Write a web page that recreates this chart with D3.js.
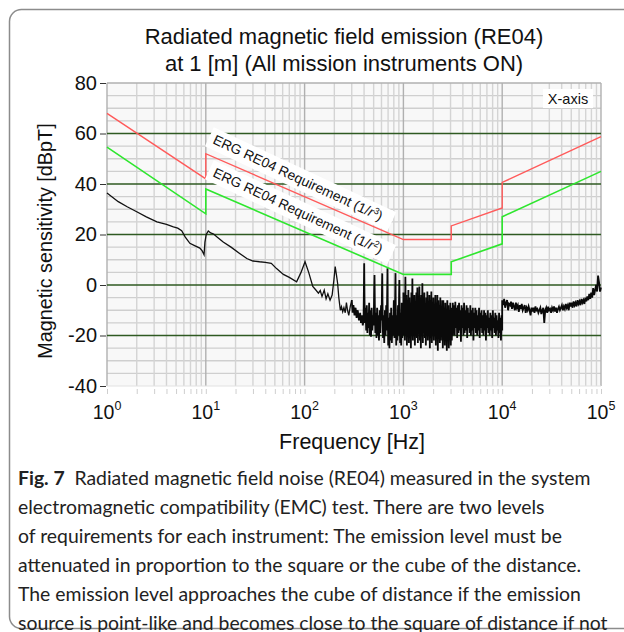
<!DOCTYPE html>
<html lang="en">
<head>
<meta charset="utf-8">
<title>Radiated magnetic field emission (RE04)</title>
<script src="https://d3js.org/d3.v7.min.js"></script>
<style>
  body { margin: 0; background: #fff; }
  svg { display: block; }
  .title, .axis-label, .tick text { font-family: "Liberation Sans", Arial, sans-serif; fill: #111; }
  .caption { font-family: Lato, "Open Sans", sans-serif; font-size: 19.4px; fill: #222; }
  .req-label { font-family: "Liberation Sans", Arial, sans-serif; font-size: 13.8px; fill: #111; }
</style>
</head>
<body>
<svg width="624" height="632"></svg>
<script>

// requirement limits (break points, dBpT)
var reqFreq  = [1, 10, 10, 1000, 3050, 3050, 10000, 10000, 100000];
var reqCube  = [68, 42, 52, 18, 18, 23.4, 30.5, 40.6, 58.8];
var reqSquare = [54.6, 28.2, 38, 4.2, 4.2, 9.2, 16.3, 27, 45];

// measured emission, 1 Hz - 300 Hz  [freq, dBpT]
var measLow = [
  [1, 36.4], [1.3, 33], [1.6, 31], [2, 29], [2.5, 27], [3.2, 25], [4, 24], [4.7, 23],
  [5.2, 22.5], [5.7, 21.5], [6.2, 19], [6.9, 16.5], [7.8, 15.5], [8.7, 14.6], [9.2, 13.5],
  [9.6, 12], [9.8, 17], [10.1, 20], [10.6, 21.4], [11.2, 20.6], [12, 20.2], [13, 19],
  [15, 17], [18, 15], [22, 12.5], [26, 10.5], [30, 9.5], [35, 9.2], [40, 9.0], [46, 8.6],
  [52, 6.5], [61, 4.2], [70, 3], [83, 1.3], [92, 5], [101, 9.2], [110, 5], [121, -0.6],
  [130, -2], [138, -3.2], [144, -2.2], [150, -4.5], [158, -2], [165, -5.5], [172, -3.5],
  [181, -6], [190, -4], [198, 2], [204, 7.3], [210, 4], [216, 0.6], [222, -5], [230, -10],
  [236, -8.6], [243, -10.6], [250, -9], [258, -11], [265, -7], [272, -10], [280, -12],
  [290, -8.5], [300, -6]
];

// measured emission, 300 Hz - 1 kHz (harmonic spikes)
var measSpikes = [
  [300, -6], [306, -11], [312, -8], [320, -12], [328, -9], [336, -13], [345, -10], [355, -14], [365, -11],
  [372, -15], [380, -12], [388, -16], [395, -14], [398, -3], [401, 8.6], [404, -6], [408, -15],
  [414, -9], [420, -18], [426, -8], [432, -19], [438, -11], [444, -17], [450, -7], [457, -20],
  [463, -10], [470, -20.5], [477, -9], [484, -18], [492, -12], [500, -16], [506, -2], [510, 4],
  [514, -8], [520, -19], [527, -11], [534, -21], [542, -9], [550, -20], [558, -12], [566, -22],
  [575, -10], [584, -19], [594, -8], [602, -14], [608, 0], [611, 4.6], [614, -6], [622, -21],
  [630, -12], [640, -23], [650, -10], [660, -20], [670, -8], [678, -18], [686, -2], [690, 6.6],
  [694, -10], [702, -24], [712, -13], [722, -25], [732, -11], [742, -22], [752, -9], [764, -23],
  [776, -12], [788, -20], [800, -6], [812, -21], [822, -10], [828, -1], [832, 4.7], [836, -8],
  [846, -24], [858, -12], [870, -22], [882, -8], [894, -20], [904, -5], [910, 2], [916, -9],
  [926, -23], [938, -11], [950, -24], [962, -7], [974, -21], [986, -10], [1000, -20]
];

// measured emission, 1 kHz - 3.16 kHz sweep (dense)
var measMid = [
  -3, -19, -6, -22, 3.3, -20, -4, -24, -8, -18, -2, -23, -5, -21, -7, -25, -3, -19, 2.6, -22,
  -6, -20, -4, -24, -9, -18, -3, -21, -1, -23, -7, -19, -0.6, -22, -5, -25, -4, -20, 0.7, -23,
  -6, -18, -3, -21, -8, -24, -5, -19, -2.6, -22, -7, -20, -4, -25, -6, -21, -2.6, -23, -8, -19,
  -5, -22, -9, -20, -4, -24, -7, -21, -4, -26, -6, -19, -8, -23, -5, -22, -10, -20, -6, -25,
  -6, -21, -9, -24, -7, -20, -11, -26, -6, -22, -8, -25, -10, -21, -7, -24, -9, -22, -12, -20
];

// measured emission, 3.16 kHz - 10 kHz sweep
var measHigh = [
  -7, -18, -8, -20, -6.6, -17, -9, -21, -8, -19, -7, -18, -10, -22.5, -8, -17, -9, -20, -7, -19,
  -10, -18, -8, -21, -9, -17, -11, -19, -8, -20, -10, -18, -9, -22, -11, -17, -9, -19, -10, -20,
  -12, -18, -9, -21, -11, -17, -10, -19, -12, -20, -10, -18, -11, -22, -12, -17, -10, -19, -13, -20,
  -11, -18, -12, -21, -10, -17, -13, -19, -11, -20, -12, -18, -14, -21, -11, -19, -13, -22, -12, -18
];

// measured emission, 10 kHz - 100 kHz sweep
var measTop = [
  -6, -8, -5.5, -9, -7, -6, -10, -7.5, -8, -6.6, -9.5, -7, -8.5, -10, -7, -9, -8, -10.6, -8, -9.5,
  -7.5, -10, -9, -8, -11, -9, -10, -8.5, -10, -12, -9, -10.5, -9, -11, -8.5, -10, -9.5, -11, -10, -9,
  -11.5, -10, -9, -15, -10, -9, -11, -8.6, -10, -9.5, -11, -9, -10, -8.5, -10.5, -9, -11, -9.5, -8.6, -10,
  -9, -8, -10, -8.5, -9.5, -7.5, -9, -8, -10, -7, -8.5, -7, -9, -6.5, -8, -7, -8.5, -6, -7.5, -6.5,
  -8, -5.5, -7, -6, -7.5, -5, -6.5, -4.5, -6, -3.5, -5.5, -3, -5, -1.2, -4, -2, 0, -2.6, 3.7, 1, -2.6, -1
];

var yTicks = [80, 60, 40, 20, 0, -20, -40];
var yMajor = [60, 40, 20, 0, -20];
var decades = [0, 1, 2, 3, 4, 5];

var titleLines = ["Radiated magnetic field emission (RE04)", "at 1 [m] (All mission instruments ON)"];
var captionLines = [
  "Radiated magnetic field noise (RE04) measured in the system",
  "electromagnetic compatibility (EMC) test. There are two levels",
  "of requirements for each instrument: The emission level must be",
  "attenuated in proportion to the square or the cube of the distance.",
  "The emission level approaches the cube of distance if the emission",
  "source is point-like and becomes close to the square of distance if not"
];

var svg = d3.select("svg");

var x = d3.scaleLog().domain([1, 1e5]).range([107, 601]),
    y = d3.scaleLinear().domain([-40, 80]).range([386, 83]);

// outer card
svg.append("rect")
    .attr("x", 9.5).attr("y", 9.5).attr("width", 640).attr("height", 619).attr("rx", 12)
    .attr("fill", "none").attr("stroke", "#8c8c8c").attr("stroke-width", 1.5);

// titles
svg.selectAll(".title").data(titleLines).enter().append("text")
    .attr("class", "title")
    .attr("x", 344).attr("y", function(d, i) { return 44 + i * 27; })
    .attr("text-anchor", "middle").style("font-size", "22px")
    .text(function(d) { return d; });

var g = svg.append("g");

g.append("rect")
    .attr("x", x(1)).attr("y", y(80)).attr("width", x(1e5) - x(1)).attr("height", y(-40) - y(80))
    .attr("fill", "#f8f8f8");

// minor horizontal grid
g.selectAll(".hgrid").data(d3.range(-35, 80, 5).filter(function(v) { return v % 20 !== 0; }))
  .enter().append("line")
    .attr("x1", x(1)).attr("x2", x(1e5))
    .attr("y1", function(d) { return y(d); }).attr("y2", function(d) { return y(d); })
    .attr("stroke", "#cfcfcf").attr("stroke-width", 1.4);

// vertical grid
g.selectAll(".vgrid").data(x.ticks())
  .enter().append("line")
    .attr("x1", function(d) { return x(d); }).attr("x2", function(d) { return x(d); })
    .attr("y1", y(80)).attr("y2", y(-40))
    .attr("stroke", function(d) { return decades.indexOf(Math.round(Math.log10(d) * 1000) / 1000) >= 0 ? "#b0b0b0" : "#d4d4d4"; })
    .attr("stroke-width", 1.4);

g.append("line").attr("x1", x(1)).attr("x2", x(1e5)).attr("y1", y(80)).attr("y2", y(80))
    .attr("stroke", "#b0b0b0").attr("stroke-width", 1.6);
g.append("line").attr("x1", x(1)).attr("x2", x(1e5)).attr("y1", y(-40)).attr("y2", y(-40))
    .attr("stroke", "#e2e2e2").attr("stroke-width", 1);

// major horizontal lines
g.selectAll(".hmajor").data(yMajor)
  .enter().append("line")
    .attr("x1", x(1)).attr("x2", x(1e5))
    .attr("y1", function(d) { return y(d); }).attr("y2", function(d) { return y(d); })
    .attr("stroke", "#2f5a22").attr("stroke-width", 1.3);

// axes
var yAxis = svg.append("g").attr("transform", "translate(106,0)")
    .call(d3.axisLeft(y).tickValues(yTicks).tickSize(6).tickPadding(3)
      .tickFormat(function(d) { return String(d); }));
yAxis.select(".domain").remove();
yAxis.selectAll("line").attr("stroke", "#333");
yAxis.selectAll("text").style("font-size", "20px");

var xAxis = svg.append("g").attr("transform", "translate(0,389)")
    .call(d3.axisBottom(x).tickValues(x.ticks()).tickSize(5).tickFormat(""));
xAxis.select(".domain").remove();
xAxis.selectAll("line").attr("stroke", "#cfcfcf");

var xLab = svg.selectAll(".xlab").data(decades).enter().append("text")
    .attr("x", function(d) { return x(Math.pow(10, d)); }).attr("y", 419)
    .attr("text-anchor", "middle")
    .style("font-family", "'Liberation Sans', Arial, sans-serif").style("font-size", "19.5px").attr("fill", "#111");
xLab.append("tspan").text("10");
xLab.append("tspan").attr("dy", -9).style("font-size", "12.5px").text(function(d) { return d; });

svg.append("text").attr("class", "axis-label")
    .attr("x", 352).attr("y", 449).attr("text-anchor", "middle").style("font-size", "21.5px")
    .text("Frequency [Hz]");
svg.append("text").attr("class", "axis-label")
    .attr("transform", "translate(52,241) rotate(-90)").attr("text-anchor", "middle").style("font-size", "19.8px")
    .text("Magnetic sensitivity [dBpT]");

// measured series
function sweep(f0, f1, vals) {
  var lf = d3.scaleLinear().domain([0, vals.length - 1]).range([Math.log10(f0), Math.log10(f1)]);
  return vals.map(function(v, i) { return [Math.pow(10, lf(i)), v]; });
}
var measDense = measSpikes.concat(sweep(1000, 3162, measMid), sweep(3162, 10000, measHigh), sweep(10000, 100000, measTop));

var line = d3.line()
    .x(function(d) { return x(d[0]); })
    .y(function(d) { return y(d[1]); });

g.append("path").datum(measLow)
    .attr("d", line).attr("fill", "none").attr("stroke", "#111").attr("stroke-width", 1.3);
g.append("path").datum(measDense)
    .attr("d", line).attr("fill", "none").attr("stroke", "#0a0a0a").attr("stroke-width", 1.8);

g.append("path").datum(reqFreq.map(function(f, i) { return [f, reqSquare[i]]; }))
    .attr("d", line).attr("fill", "none").attr("stroke", "#2ee62e").attr("stroke-width", 1.6);
g.append("path").datum(reqFreq.map(function(f, i) { return [f, reqCube[i]]; }))
    .attr("d", line).attr("fill", "none").attr("stroke", "#ff5a5a").attr("stroke-width", 1.4);

// rotated requirement labels
function reqLabel(px, py, power) {
  var lg = svg.append("g").attr("transform", "translate(" + px + "," + py + ") rotate(25)");
  var box = lg.append("rect").attr("fill", "#fff");
  var t = lg.append("text").attr("class", "req-label");
  t.append("tspan").text("ERG RE04 Requirement (1/");
  t.append("tspan").style("font-style", "italic").text("r");
  t.append("tspan").attr("dy", -5).style("font-size", "9px").text(power);
  t.append("tspan").attr("dy", 5).text(")");
  var bb = t.node().getBBox();
  box.attr("x", bb.x - 5).attr("y", bb.y - 2).attr("width", bb.width + 16).attr("height", bb.height + 5);
}
reqLabel(212, 143, "3");
reqLabel(212, 176, "2");

// X-axis tag
svg.append("rect").attr("x", 543).attr("y", 89).attr("width", 50).attr("height", 19).attr("fill", "#fff");
svg.append("text").attr("x", 568).attr("y", 104).attr("text-anchor", "middle")
    .style("font-family", "'Liberation Sans', Arial, sans-serif").style("font-size", "14.5px").attr("fill", "#111")
    .text("X-axis");

// caption
var cap = svg.selectAll(".caption").data(captionLines).enter().append("text")
    .attr("class", "caption")
    .attr("x", 18).attr("y", function(d, i) { return 485 + i * 29; });
cap.filter(function(d, i) { return i === 0; }).append("tspan")
    .style("font-weight", "bold").text("Fig. 7\u2002");
cap.append("tspan").text(function(d) { return d; });

</script>
</body>
</html>
